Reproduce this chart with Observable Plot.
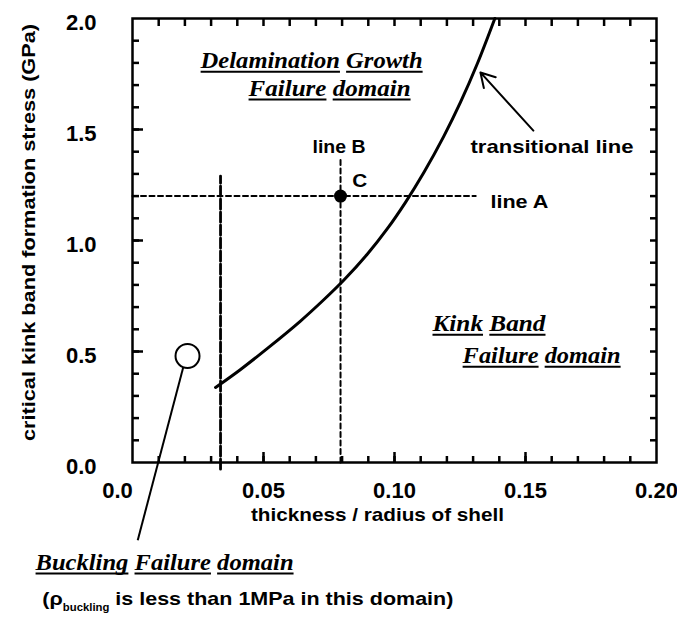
<!DOCTYPE html>
<html><head><meta charset="utf-8">
<script src="https://cdn.jsdelivr.net/npm/d3@7"></script>
<script src="https://cdn.jsdelivr.net/npm/@observablehq/plot@0.6"></script>
<style>body{margin:0;background:#fff}</style>
</head><body><div id="chart"></div>
<script>
// transitional line (thickness/radius vs critical stress, GPa)
const transX = [0.0317, 0.041, 0.0515, 0.064, 0.073, 0.0807, 0.0896, 0.0972, 0.1042, 0.1112, 0.1188, 0.1252, 0.1316, 0.1383];
const transY = [0.338, 0.417, 0.514, 0.636, 0.733, 0.822, 0.938, 1.052, 1.172, 1.306, 1.469, 1.623, 1.796, 2.0];
// line A (horizontal) and line B (vertical)
const lineAY = 1.2, lineAX = [0, 0.131];
const lineBX = 0.0794, lineBY = [0, 1.375];
// buckling limit (heavy dashed vertical)
const buckLimitX = 0.0336, buckLimitY = [-0.03, 1.29];
// point C and buckling marker
const pointC = [{x: 0.0794, y: 1.2}];
const bucklingPoint = [{x: 0.021, y: 0.48}];
const bucklingPointer = [{x1: 0.0194, y1: 0.43, x2: 0.002, y2: -0.35}];
const transArrow = [{x1: 0.153, y1: 1.495, x2: 0.1328, y2: 1.757}];
// ticks
const xTickLabels = [0.05, 0.10, 0.15, 0.20];
const yTickLabels = [0.0, 0.5, 1.0, 1.5, 2.0];
const xMinor = d3.range(1, 20).map(i => i / 100);
const xMajor = [0.05, 0.10, 0.15];
const yMinor = d3.range(1, 20).map(i => i / 10);
const yMajor = [0.5, 1.0, 1.5];
// text labels
const scriptLabels = [
  {text: "Delamination Growth", x: 0.026, y: 1.81, w: 222},
  {text: "Failure domain", x: 0.0443, y: 1.685, w: 162},
  {text: "Kink Band", x: 0.1145, y: 0.626, w: 113},
  {text: "Failure domain", x: 0.126, y: 0.482, w: 158},
  {text: "Buckling Failure domain", x: -0.037, y: -0.45, w: 258}
];
const plainLabels = [
  {text: "transitional line", x: 0.129, y: 1.42, w: 163},
  {text: "line A", x: 0.1366, y: 1.176, w: 58},
  {text: "line B", x: 0.0687, y: 1.42, w: 53},
  {text: "C", x: 0.0839, y: 1.27, w: 15}
];
const noteLabel = [{text: "(ρ", sub: "buckling", rest: " is less than 1MPa in this domain)", x: -0.0344, y: -0.6126, w: 411}];
const xTitle = [{text: "thickness / radius of shell", x: 0.0935, w: 253}];
const yTitle = [{text: "critical kink band formation stress (GPa)", y: 1.036, w: 417}];

// inward tick helpers built on Plot's axis marks (no labels)
const noLabel = () => "";
const tk = {stroke: "black", strokeWidth: 2.5, tickFormat: noLabel, label: null};
const innerTicksX = (ticks, anchor, size) => Plot.axisX(ticks, {...tk, anchor, tickSize: size, dy: anchor === "bottom" ? -size : size});
const innerTicksY = (ticks, anchor, size) => Plot.axisY(ticks, {...tk, anchor, tickSize: size, dx: anchor === "left" ? size : -size});

const sans = "'Liberation Sans', Arial, sans-serif";
const plot = Plot.plot({
  width: 677, height: 618,
  marginLeft: 132, marginRight: 21, marginTop: 18, marginBottom: 156,
  x: {domain: [0, 0.2]},
  y: {domain: [0, 2]},
  style: {background: "#fff", color: "#000", fontFamily: sans},
  marks: [
    Plot.frame({stroke: "black", strokeWidth: 2.5}),
    // ticks (inward)
    innerTicksX(xMinor, "bottom", 6),
    innerTicksX(xMajor, "bottom", 10),
    innerTicksX(xMinor, "top", 7),
    innerTicksY(yMinor, "left", 7),
    innerTicksY(yMajor, "left", 11),
    innerTicksY(yMinor, "right", 7),
    Plot.axisY(yTickLabels, {tickSize: 0, tickPadding: 36, tickFormat: d => d.toFixed(1), fontSize: 22, fontWeight: "bold", dy: 4, label: null}),
    Plot.axisX(xTickLabels, {tickSize: 0, tickPadding: 20, tickFormat: d => d.toFixed(2), fontSize: 22, fontWeight: "bold", label: null}),
    Plot.axisX([0], {tickSize: 0, tickPadding: 20, tickFormat: d => d.toFixed(1), fontSize: 22, fontWeight: "bold", dx: -15, label: null}),
    // axis titles
    Plot.text(xTitle, {x: "x", frameAnchor: "bottom", dy: 58, text: "text", fontSize: 19, fontWeight: "bold", ariaLabel: () => "xtitle"}),
    Plot.text(yTitle, {y: "y", frameAnchor: "left", textAnchor: "middle", dx: -104, rotate: -90, text: "text", fontSize: 19, fontWeight: "bold", ariaLabel: () => "ytitle"}),
    // dashed lines
    Plot.line(lineAX.map(x => ({x, y: lineAY})), {x: "x", y: "y", stroke: "black", strokeWidth: 2, strokeDasharray: "5,3.5"}),
    Plot.line(lineBY.map(y => ({x: lineBX, y})), {x: "x", y: "y", stroke: "black", strokeWidth: 2, strokeDasharray: "5,3.5"}),
    Plot.line(buckLimitY.map(y => ({x: buckLimitX, y})), {x: "x", y: "y", stroke: "black", strokeWidth: 2.8, strokeDasharray: "10,3"}),
    // transitional line
    Plot.line(transX.map((x, i) => ({x, y: transY[i]})), {x: "x", y: "y", stroke: "black", strokeWidth: 3, curve: "catmull-rom"}),
    // pointers
    Plot.link(bucklingPointer, {x1: "x1", y1: "y1", x2: "x2", y2: "y2", stroke: "black", strokeWidth: 2}),
    Plot.arrow(transArrow, {x1: "x1", y1: "y1", x2: "x2", y2: "y2", stroke: "black", strokeWidth: 2, headLength: 12, bend: false}),
    // points
    Plot.dot(bucklingPoint, {x: "x", y: "y", r: 12, stroke: "black", strokeWidth: 2, fill: "white"}),
    Plot.dot(pointC, {x: "x", y: "y", r: 6.5, fill: "black"}),
    // labels
    Plot.text(plainLabels, {x: "x", y: "y", text: "text", textAnchor: "start", fontSize: 19, fontWeight: "bold", ariaLabel: () => "plain"}),
    Plot.text(scriptLabels, {x: "x", y: "y", text: "text", textAnchor: "start", fontSize: 24, fontStyle: "italic", fontWeight: "bold", fontFamily: "'Liberation Serif', 'DejaVu Serif', serif", ariaLabel: () => "script"}),
    Plot.text(noteLabel, {x: "x", y: "y", text: "text", textAnchor: "start", fontSize: 19, fontWeight: "bold", ariaLabel: () => "note"})
  ]
});
document.getElementById("chart").appendChild(plot);

// post-process text
const ns = "http://www.w3.org/2000/svg";
function textsOf(label) {
  const out = [];
  plot.querySelectorAll(`[aria-label="${label}"]`).forEach(el => {
    if (el.tagName.toLowerCase() === "text") out.push(el);
    else el.querySelectorAll("text").forEach(t => out.push(t));
  });
  return out;
}
function fit(t, w) { t.setAttribute("textLength", w); t.setAttribute("lengthAdjust", "spacingAndGlyphs"); }

textsOf("plain").forEach((t, i) => fit(t, plainLabels[i].w));
textsOf("xtitle").forEach((t, i) => fit(t, xTitle[i].w));
textsOf("ytitle").forEach((t, i) => fit(t, yTitle[i].w));
textsOf("note").forEach((t, i) => {
  const d = noteLabel[i];
  const a = document.createElementNS(ns, "tspan"); a.textContent = d.sub;
  a.setAttribute("font-size", "10"); a.setAttribute("dy", "6");
  const b = document.createElementNS(ns, "tspan"); b.textContent = d.rest;
  b.setAttribute("dy", "-6");
  t.appendChild(a); t.appendChild(b);
  fit(t, d.w);
});
textsOf("script").forEach((t, i) => {
  fit(t, scriptLabels[i].w);
  const str = t.textContent;
  const parent = t.parentNode;
  let idx = 0;
  str.split(" ").forEach(word => {
    const s = idx, e = idx + word.length - 1;
    idx += word.length + 1;
    if (word.length === 0) return;
    const p0 = t.getStartPositionOfChar(s), p1 = t.getEndPositionOfChar(e);
    const ln = document.createElementNS(ns, "line");
    ln.setAttribute("x1", p0.x); ln.setAttribute("x2", p1.x);
    ln.setAttribute("y1", p0.y + 3.5); ln.setAttribute("y2", p0.y + 3.5);
    ln.setAttribute("stroke", "black"); ln.setAttribute("stroke-width", "2");
    const tr = t.getAttribute("transform");
    if (tr) ln.setAttribute("transform", tr);
    parent.appendChild(ln);
  });
});
</script>
</body></html>
